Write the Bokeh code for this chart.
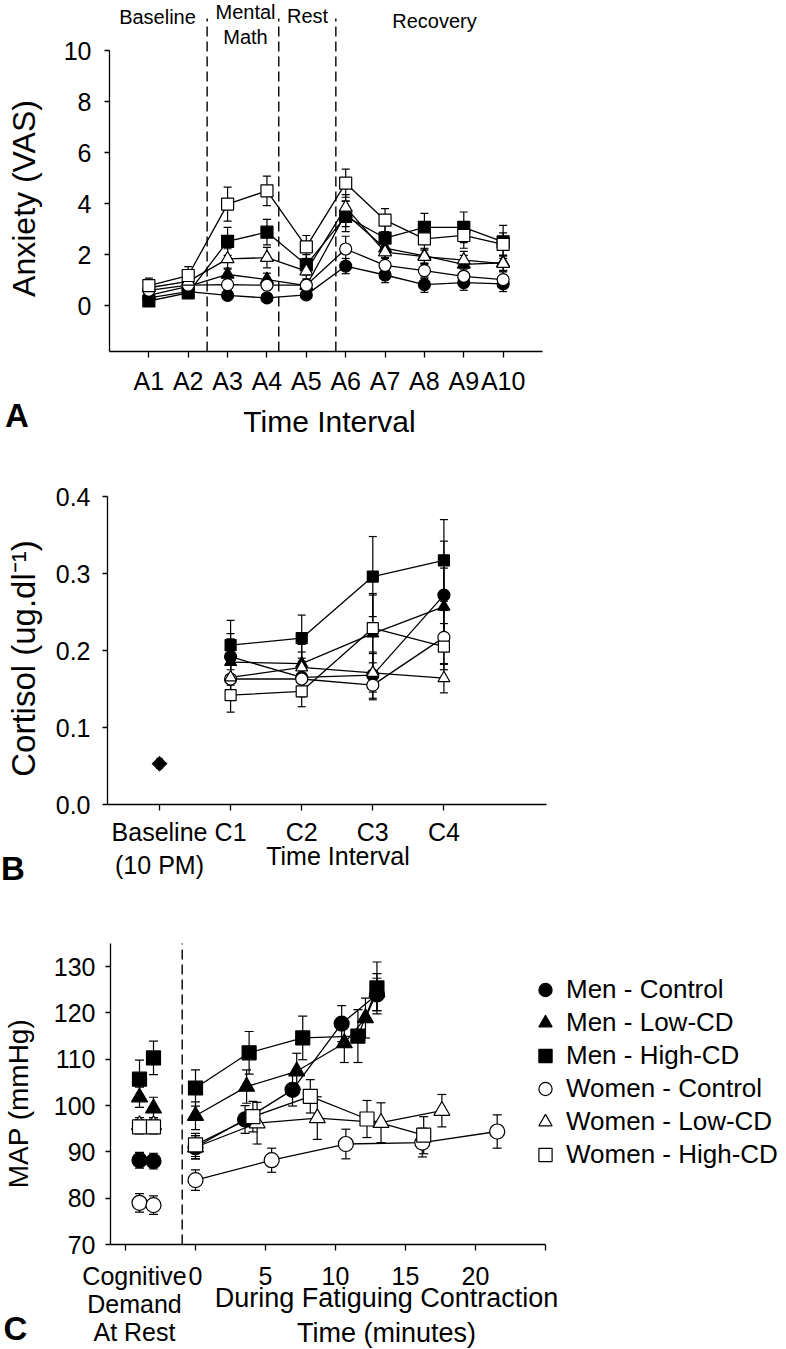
import math
from bokeh.plotting import figure
from bokeh.layouts import column
from bokeh.models import Range1d, FixedTicker, Label, Legend, LegendItem, NumeralTickFormatter
from bokeh.embed import file_html
from bokeh.resources import INLINE

FONT = "Liberation Sans"
W = 786

groups = ["Men - Control", "Men - Low-CD", "Men - High-CD",
          "Women - Control", "Women - Low-CD", "Women - High-CD"]
group_markers = ["circle", "triangle", "square", "circle", "triangle", "square"]
group_fills = ["black", "black", "black", "white", "white", "white"]

# ---------------- Panel A : anxiety (VAS) ----------------
a_ticks = ["A1", "A2", "A3", "A4", "A5", "A6", "A7", "A8", "A9", "A10"]
a_x = [1, 2, 3, 4, 5, 6, 7, 8, 9, 10]
a_men_control = [0.30, 0.55, 0.40, 0.30, 0.42, 1.55, 1.20, 0.82, 0.90, 0.85]
a_men_low = [0.40, 0.75, 1.22, 1.02, 0.78, 3.60, 2.25, 1.95, 1.62, 1.68]
a_men_high = [0.18, 0.50, 2.52, 2.88, 1.60, 3.50, 2.65, 3.07, 3.07, 2.50]
a_women_control = [0.60, 0.80, 0.82, 0.80, 0.80, 2.22, 1.58, 1.37, 1.15, 1.02]
a_women_low = [0.70, 0.95, 1.83, 1.88, 1.35, 3.85, 2.10, 1.92, 1.78, 1.65]
a_women_high = [0.78, 1.18, 3.98, 4.50, 2.30, 4.80, 3.35, 2.62, 2.75, 2.40]
a_err_men_control = [0.20, 0.15, 0.15, 0.15, 0.15, 0.30, 0.30, 0.30, 0.30, 0.30]
a_err_men_low = [0.20, 0.20, 0.25, 0.25, 0.20, 0.50, 0.40, 0.30, 0.35, 0.30]
a_err_men_high = [0.15, 0.20, 0.55, 0.50, 0.40, 0.60, 0.50, 0.55, 0.60, 0.65]
a_err_women_control = [0.20, 0.20, 0.20, 0.20, 0.20, 0.50, 0.30, 0.30, 0.35, 0.30]
a_err_women_low = [0.25, 0.30, 0.40, 0.40, 0.30, 0.50, 0.35, 0.30, 0.35, 0.30]
a_err_women_high = [0.30, 0.35, 0.67, 0.58, 0.45, 0.55, 0.45, 0.45, 0.50, 0.45]
a_phase_bounds = [2.48, 4.30, 5.75]
a_phase_names = ["Baseline", "Mental", "Math", "Rest", "Recovery"]

# ---------------- Panel B : cortisol ----------------
b_ticks = ["Baseline\n(10 PM)", "C1", "C2", "C3", "C4"]
b_tick_x = [0, 1, 2, 3, 4]
b_x = [1, 2, 3, 4]
b_baseline = [0.053]
b_baseline_err = [0.006]
b_men_control = [0.192, 0.165, 0.168, 0.272]
b_men_low = [0.185, 0.183, 0.222, 0.257]
b_men_high = [0.207, 0.216, 0.296, 0.317]
b_women_control = [0.163, 0.163, 0.155, 0.217]
b_women_low = [0.165, 0.178, 0.171, 0.164]
b_women_high = [0.142, 0.147, 0.229, 0.205]
b_err_men_control = [0.030, 0.025, 0.030, 0.070]
b_err_men_low = [0.030, 0.025, 0.050, 0.050]
b_err_men_high = [0.032, 0.030, 0.052, 0.053]
b_err_women_control = [0.025, 0.020, 0.019, 0.035]
b_err_women_low = [0.025, 0.020, 0.025, 0.019]
b_err_women_high = [0.022, 0.020, 0.045, 0.030]

# ---------------- Panel C : MAP ----------------
c_rest_x = [-4, -3]
c_rest_men_control = [88.2, 88.0]
c_rest_men_low = [101.8, 99.4]
c_rest_men_high = [105.7, 110.3]
c_rest_women_control = [79.0, 78.5]
c_rest_women_low = [95.8, 95.8]
c_rest_women_high = [95.4, 95.4]
c_rest_err_men_control = [1.7, 1.7]
c_rest_err_men_low = [2.2, 2.4]
c_rest_err_men_high = [4.1, 3.6]
c_rest_err_women_control = [2.0, 2.0]
c_rest_err_women_low = [1.6, 1.6]
c_rest_err_women_high = [1.5, 1.5]

c_time_men_control = [0.0, 3.54, 6.93, 10.44, 12.96]
c_map_men_control = [91.0, 97.0, 103.4, 117.7, 124.0]
c_err_men_control = [2.5, 3.0, 3.5, 3.9, 3.5]
c_time_men_low = [0.0, 3.65, 7.23, 10.63, 12.14, 12.96]
c_map_men_low = [97.8, 104.1, 107.4, 113.5, 118.9, 124.5]
c_err_men_low = [3.0, 3.6, 3.9, 4.2, 4.3, 4.0]
c_time_men_high = [0.0, 3.83, 7.66, 11.6, 12.96]
c_map_men_high = [103.8, 111.4, 114.6, 115.0, 125.4]
c_err_men_high = [3.9, 4.6, 4.7, 5.7, 5.6]
c_time_women_control = [0.0, 5.44, 10.74, 16.2, 21.55]
c_map_women_control = [83.9, 88.2, 91.7, 92.0, 94.4]
c_err_women_control = [2.2, 2.6, 3.2, 3.1, 3.6]
c_time_women_low = [0.0, 4.4, 8.7, 13.25, 17.6]
c_map_women_low = [91.0, 96.2, 97.3, 96.3, 98.9]
c_err_women_low = [2.5, 4.5, 4.6, 4.3, 3.5]
c_time_women_high = [0.0, 4.1, 8.2, 12.25, 16.3]
c_map_women_high = [91.5, 97.6, 102.0, 97.1, 93.6]
c_err_women_high = [2.5, 3.3, 3.6, 4.0, 4.0]
c_rest_label = "Cognitive\nDemand\nAt Rest"
c_rest_label_x = -4.36
c_time_ticks = [0, 5, 10, 15, 20]
c_tick_marks = [-5, 0, 5, 10, 15, 20, 25]
c_y_ticks = [70, 80, 90, 100, 110, 120, 130]
c_cd_boundary = [-0.95]


def make_fig(height, mx, my, top):
    p = figure(width=W, height=height, title=None, output_backend="svg", toolbar_location=None,
               x_range=Range1d(mx(0), mx(W)), y_range=Range1d(my(top + height), my(top)),
               min_border_left=0, min_border_right=0, min_border_top=0, min_border_bottom=0)
    p.grid.visible = False
    p.outline_line_color = None
    return p


def style_axes(p, xstand, ystand, xloc, yloc, xbounds, ybounds, xtick=6, ytick=5):
    for ax in p.xaxis + p.yaxis:
        ax.axis_line_color = "black"
        ax.axis_line_width = 1.3
        ax.major_tick_line_color = "black"
        ax.major_tick_line_width = 1.3
        ax.major_tick_in = 0
        ax.minor_tick_line_color = None
        ax.major_label_text_font = FONT
        ax.major_label_text_font_size = "25px"
        ax.major_label_text_color = "black"
    p.xaxis.major_tick_out = xtick
    p.yaxis.major_tick_out = ytick
    p.xaxis.major_label_standoff = xstand
    p.yaxis.major_label_standoff = ystand
    p.xaxis.fixed_location = xloc
    p.yaxis.fixed_location = yloc
    p.xaxis.bounds = xbounds
    p.yaxis.bounds = ybounds


def add_text(p, mx, my, text, px, py, size, angle=0.0, bold=False):
    p.add_layout(Label(x=mx(px), y=my(py), text=text, text_font=FONT,
                       text_font_size=f"{size}px", text_align="center",
                       text_baseline="middle", angle=angle, text_color="black",
                       text_font_style="bold" if bold else "normal"))


def draw_errors(p, xs, ys, es, cap, lw=1.2):
    lo = [y - e for y, e in zip(ys, es)]
    hi = [y + e for y, e in zip(ys, es)]
    p.segment(x0=xs, y0=lo, x1=xs, y1=hi, line_color="black", line_width=lw)
    p.scatter(x=xs, y=hi, marker="dash", size=cap, line_color="black", line_width=lw)
    p.scatter(x=xs, y=lo, marker="dash", size=cap, line_color="black", line_width=lw)


def draw_groups(p, xs_list, ys_list, es_list, sizes, cap, connect=True):
    for xs, ys, es in zip(xs_list, ys_list, es_list):
        draw_errors(p, xs, ys, es, cap)
    if connect:
        for xs, ys in zip(xs_list, ys_list):
            p.line(x=xs, y=ys, line_color="black", line_width=1.3)
    rs = []
    for xs, ys, mk, fc in zip(xs_list, ys_list, group_markers, group_fills):
        rs.append(p.scatter(x=xs, y=ys, marker=mk, size=sizes[mk], fill_color=fc,
                            line_color="black", line_width=1.2))
    return rs


# ================= Figure A (page y 0..442) =================
A_TOP, A_H = 0, 442
amx = lambda px: (px - 109) / (433 / 11.0)
amy = lambda py: -1.8 + (351 - py) / 25.5
pa = make_fig(A_H, amx, amy, A_TOP)
style_axes(pa, xstand=9, ystand=13, xloc=-1.8, yloc=0, xbounds=(0, 11), ybounds=(-1.8, 10))
pa.xaxis.ticker = FixedTicker(ticks=a_x)
pa.xaxis.major_label_overrides = {x: t for x, t in zip(a_x, a_ticks)}
pa.yaxis.ticker = FixedTicker(ticks=[0, 2, 4, 6, 8, 10])
pa.segment(x0=a_phase_bounds, y0=[-1.8] * 3, x1=a_phase_bounds, y1=[amy(18)] * 3,
           line_color="black", line_width=1.4, line_dash="10 5")
a_series = [a_men_control, a_men_low, a_men_high, a_women_control, a_women_low, a_women_high]
a_errs = [a_err_men_control, a_err_men_low, a_err_men_high,
          a_err_women_control, a_err_women_low, a_err_women_high]
draw_groups(pa, [a_x] * 6, a_series, a_errs, {"circle": 12, "triangle": 13, "square": 12}, 8)
for name, (px, py) in zip(a_phase_names, [(157, 16), (245, 11), (245, 36), (307, 15), (434, 20)]):
    add_text(pa, amx, amy, name, px, py, 20)
add_text(pa, amx, amy, "Anxiety (VAS)", 23, 198, 32, angle=math.pi / 2)
add_text(pa, amx, amy, "Time Interval", 329, 421, 30)
add_text(pa, amx, amy, "A", 16.5, 414.5, 33, bold=True)

# ================= Figure B (page y 442..890) =================
B_TOP, B_H = 442, 448
bmx = lambda px: (px - 159) / 71.1
bmy = lambda py: (804 - py) / 770.0
pb = make_fig(B_H, bmx, bmy, B_TOP)
style_axes(pb, xstand=7, ystand=12, xloc=0, yloc=bmx(107),
           xbounds=(bmx(107), bmx(546)), ybounds=(0, 0.4))
pb.xaxis.ticker = FixedTicker(ticks=b_tick_x)
pb.xaxis.major_label_overrides = {x: t for x, t in zip(b_tick_x, b_ticks)}
pb.yaxis.ticker = FixedTicker(ticks=[0.0, 0.1, 0.2, 0.3, 0.4])
pb.yaxis.formatter = NumeralTickFormatter(format="0.0")
b_series = [b_men_control, b_men_low, b_men_high, b_women_control, b_women_low, b_women_high]
b_errs = [b_err_men_control, b_err_men_low, b_err_men_high,
          b_err_women_control, b_err_women_low, b_err_women_high]
draw_errors(pb, [0], b_baseline, b_baseline_err, 7)
pb.scatter(x=[0], y=b_baseline, marker="square", angle=math.pi / 4, size=10.5,
           fill_color="black", line_color="black")
draw_groups(pb, [b_x] * 6, b_series, b_errs, {"circle": 12, "triangle": 12, "square": 11}, 8)
add_text(pb, bmx, bmy, "Cortisol (ug.dl\u207b\u00b9)", 23, 658, 33, angle=math.pi / 2)
add_text(pb, bmx, bmy, "Time Interval", 337.5, 855, 25)
add_text(pb, bmx, bmy, "B", 12.5, 868, 33, bold=True)

# ================= Figure C (page y 890..1349) =================
C_TOP, C_H = 890, 459
cmx = lambda px: (px - 195) / 14.0
cmy = lambda py: 70 + (1244 - py) / (301 / 65.0)
pc = make_fig(C_H, cmx, cmy, C_TOP)
style_axes(pc, xstand=11, ystand=10, xloc=70, yloc=cmx(110),
           xbounds=(cmx(110), 25), ybounds=(70, 135))
# labels sit on (invisible) major ticks, tick marks are drawn as minor ticks
pc.xaxis.ticker = FixedTicker(ticks=[c_rest_label_x] + c_time_ticks, minor_ticks=c_tick_marks)
pc.xaxis.major_label_overrides = {c_rest_label_x: c_rest_label}
pc.xaxis.major_tick_line_color = None
pc.xaxis.minor_tick_line_color = "black"
pc.xaxis.minor_tick_line_width = 1.3
pc.xaxis.minor_tick_in = 0
pc.xaxis.minor_tick_out = 6
pc.xaxis.major_label_text_line_height = 1.0
pc.yaxis.ticker = FixedTicker(ticks=c_y_ticks)
pc.segment(x0=c_cd_boundary, y0=[70], x1=c_cd_boundary, y1=[135],
           line_color="black", line_width=1.4, line_dash="10 5")
c_rest = [c_rest_men_control, c_rest_men_low, c_rest_men_high,
          c_rest_women_control, c_rest_women_low, c_rest_women_high]
c_rest_err = [c_rest_err_men_control, c_rest_err_men_low, c_rest_err_men_high,
              c_rest_err_women_control, c_rest_err_women_low, c_rest_err_women_high]
c_times = [c_time_men_control, c_time_men_low, c_time_men_high,
           c_time_women_control, c_time_women_low, c_time_women_high]
c_maps = [c_map_men_control, c_map_men_low, c_map_men_high,
          c_map_women_control, c_map_women_low, c_map_women_high]
c_errs = [c_err_men_control, c_err_men_low, c_err_men_high,
          c_err_women_control, c_err_women_low, c_err_women_high]
c_sizes = {"circle": 15, "triangle": 16, "square": 14}
draw_groups(pc, [c_rest_x] * 6, c_rest, c_rest_err, c_sizes, 9, connect=False)
c_renderers = draw_groups(pc, c_times, c_maps, c_errs, c_sizes, 9)

legend = Legend(items=[LegendItem(label=g, renderers=[r]) for g, r in zip(groups, c_renderers)],
                location=(527, C_H - (973 - C_TOP) - 6 * 33),
                padding=0, margin=0, spacing=0, glyph_width=36, glyph_height=33,
                label_height=33, label_standoff=3, border_line_color=None,
                background_fill_alpha=0, label_text_font=FONT,
                label_text_font_size="26px", label_text_color="black")
pc.add_layout(legend)

add_text(pc, cmx, cmy, "MAP (mmHg)", 17.5, 1103, 28, angle=math.pi / 2)
add_text(pc, cmx, cmy, "During Fatiguing Contraction", 386, 1297, 27)
add_text(pc, cmx, cmy, "Time (minutes)", 386, 1332, 27)
add_text(pc, cmx, cmy, "C", 15, 1327.5, 33, bold=True)

layout = column(pa, pb, pc, spacing=0)
open("out.html", "w").write(file_html(layout, INLINE))
